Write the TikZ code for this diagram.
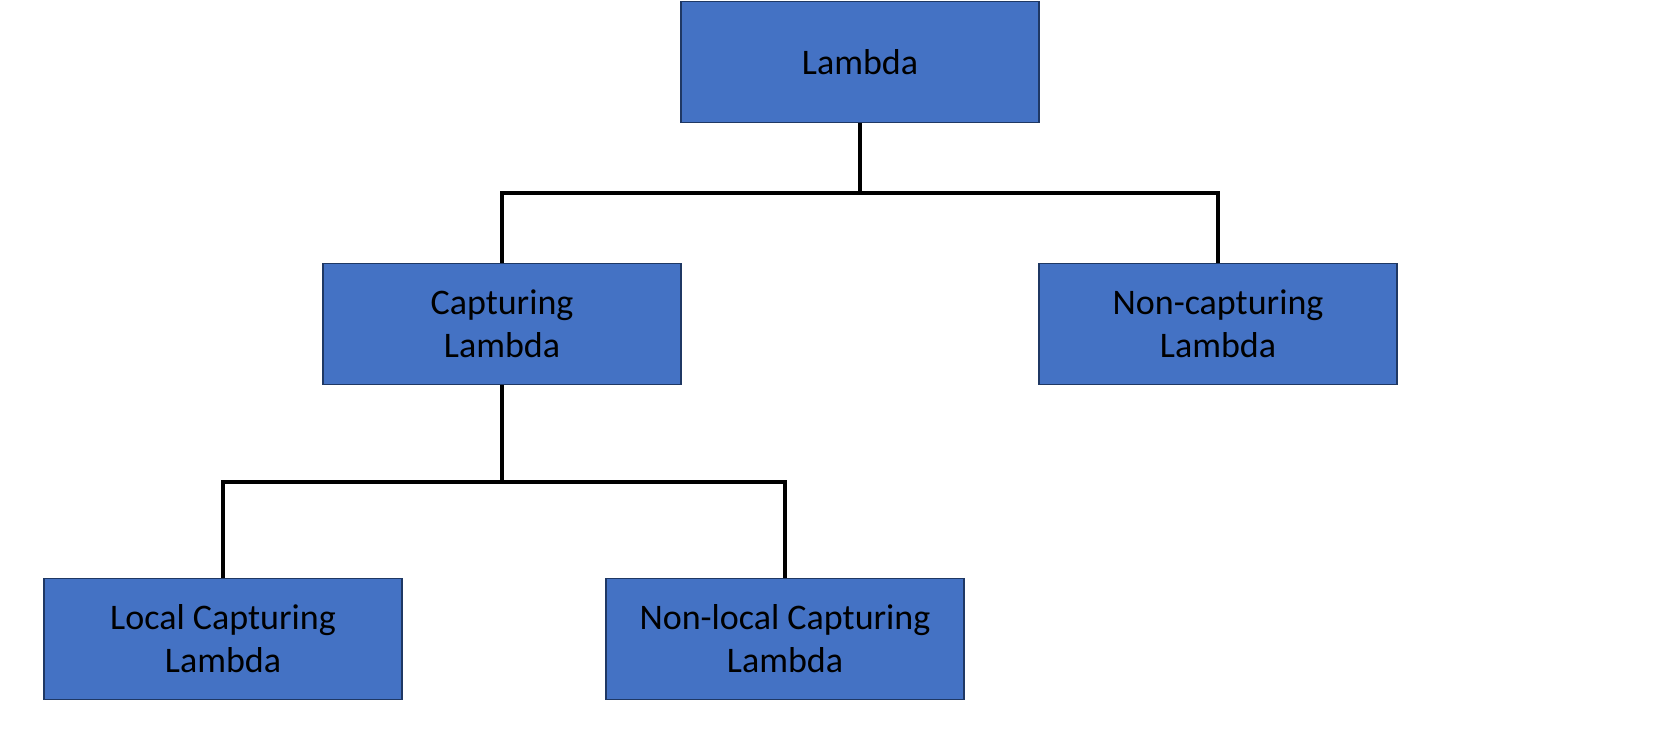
\documentclass[tikz,border=0pt]{standalone}
\usepackage{fontspec}
\setmainfont{Carlito}
\definecolor{boxfill}{HTML}{4472C4}
\definecolor{boxline}{HTML}{1F3864}
\begin{document}
\begin{tikzpicture}[x=0.5pt,y=-0.5pt,
  box/.style={draw=boxline, line width=0.7pt, fill=boxfill, minimum width=179pt, minimum height=60.5pt, inner sep=0pt, align=center, font=\fontsize{18}{21.5}\selectfont, text=black},
  conn/.style={draw=black, line width=2pt}]
\useasboundingbox (0,0) rectangle (1676,736);
\node[box] (lam) at (860,62) {Lambda};
\node[box] (cap) at (502,324) {Capturing\\Lambda};
\node[box] (non) at (1218,324) {Non-capturing\\Lambda};
\node[box] (loc) at (223,639) {Local Capturing\\Lambda};
\node[box] (nloc) at (785,639) {Non-local Capturing\\Lambda};
\coordinate (j1) at (860,193);
\coordinate (j2) at (502,482);
\draw[conn] (lam.south) -- (j1);
\draw[conn] (cap.north) |- (j1) -| (non.north);
\draw[conn] (cap.south) -- (j2);
\draw[conn] (loc.north) |- (j2) -| (nloc.north);
\end{tikzpicture}
\end{document}
